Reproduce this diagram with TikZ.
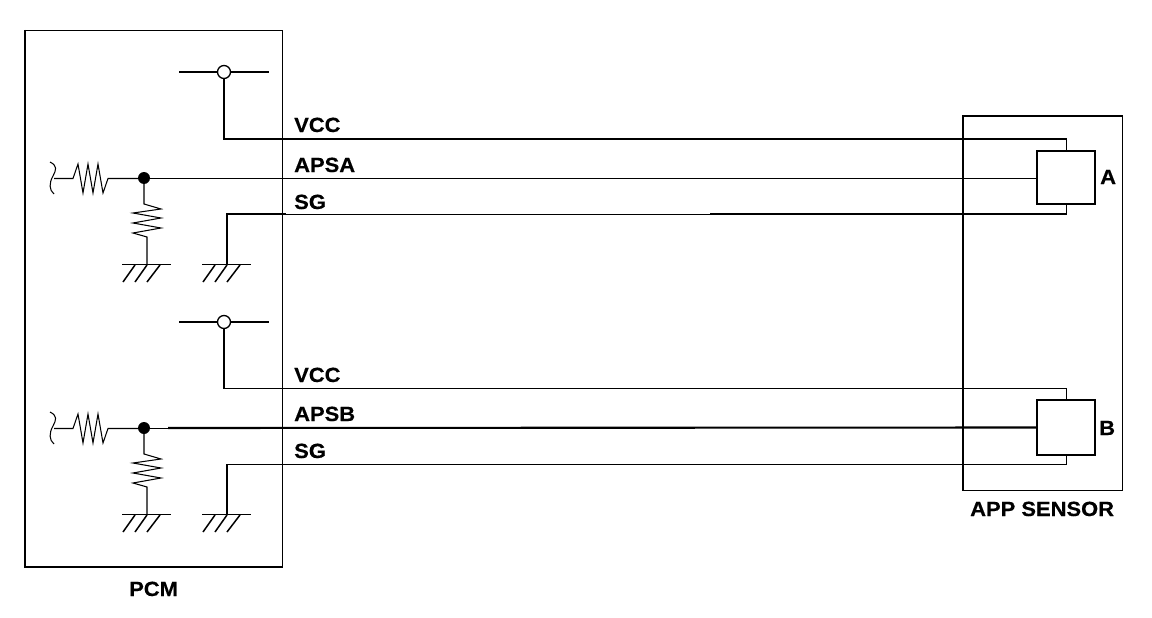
\documentclass[tikz,border=0pt]{standalone}
\usepackage{fontspec}
\setmainfont[BoldFeatures={FakeStretch=1.07,FakeBold=0.5}]{Liberation Sans}
\begin{document}
\begin{tikzpicture}[x=1pt,y=-1pt,
  thinw/.style={line width=1.05pt},
  midw/.style={line width=1.5pt},
  thickw/.style={line width=2.1pt},
  lbl/.style={font=\bfseries\fontsize{20.5}{20.5}\selectfont,inner sep=0pt,anchor=base west},
  opencirc/.style={circle,draw,fill=white,line width=1.3pt,minimum size=13pt,inner sep=0pt},
  dotc/.style={circle,fill=black,minimum size=12pt,inner sep=0pt},
  sensorbox/.style={draw,line width=1.7pt,minimum width=58pt,inner sep=0pt,outer sep=0pt}]
\useasboundingbox (0,0) rectangle (1152,618);
\draw[thinw] (25,30.5) -- (282.5,30.5) -- (282.5,567);
\draw[thickw] (25,29.9) -- (25,567) -- (283,567);
\draw[midw] (1122.5,116) -- (1122.5,490.5) -- (963,490.5);
\draw[thickw] (1123,116) -- (963,116) -- (963,491);
\node[sensorbox,minimum height=53pt] (sa) at (1066,177.5) {};
\node[sensorbox,minimum height=55pt] (sb) at (1066,427.5) {};
\foreach \n/\o/\gw in {u/0/thinw,l/250/midw}{
  \begin{scope}[yshift=-\o pt]
  \coordinate (\n vl) at (179,72); \coordinate (\n vr) at (269,72);
  \draw[thickw] (\n vl) -- (\n vr);
  \node[opencirc] (\n vc) at (224,72) {};
  \coordinate (\n j) at (144,178);
  \draw[thinw,line join=round] (50,162) .. controls (58,166) and (56,170) .. (53,176) .. controls (49,183) and (49,190) .. (54,194);
  \draw[thinw] (54,178.5) -- (73,178.5) -- (78,164) -- (83,193) -- (88,164) -- (93,193) -- (98,164) -- (103,193) -- (108,178.5) -- (144,178.5);
  \draw[thinw] (144,178) -- (144,204) -- (161,209) -- (133,213) -- (161,218) -- (133,223) -- (161,228) -- (133,233) -- (147,237) -- (147,264);
  \foreach \gx in {0,80}{
    \draw[\gw] (122+\gx,264.5) -- (171+\gx,264.5);
    \draw[midw] (135+\gx,265) -- (123+\gx,282);
    \draw[midw] (147+\gx,265) -- (135+\gx,282);
    \draw[midw] (160+\gx,265) -- (147+\gx,282);
  }
  \node[dotc] (\n jd) at (\n j) {};
  \end{scope}
}
\draw[thickw] (uvc) -- (224,139) -- (1067,139);
\draw[thinw] (1066.5,139) -- (1066.5,151);
\draw[thinw] (144,178.5) -- (1037,178.5);
\draw[thickw] (227,264) -- (227,214) -- (286,214);
\draw[thinw] (286,214.5) -- (710,214.5);
\draw[thickw] (710,214) -- (1067,214);
\draw[thinw] (1066.5,214) -- (1066.5,204);
\draw[midw] (lvc) -- (224,388.5);
\draw[thinw] (223.5,388.5) -- (1066.5,388.5) -- (1066.5,400);
\draw[thinw] (144,428.5) -- (168,428.5);
\draw[thickw] (168,428) -- (sb.west);
\draw[thickw] (227,514) -- (227,464);
\draw[thinw] (226,464.5) -- (1066.5,464.5) -- (1066.5,455);
\node[lbl] (t1) at (294,132) {VCC};
\node[lbl] (t2) at (294,172) {APSA};
\node[lbl] (t3) at (294,209) {SG};
\node[lbl] (t4) at (294,382) {VCC};
\node[lbl] (t5) at (294,421) {APSB};
\node[lbl] (t6) at (294,458) {SG};
\node[lbl] (t7) at (1100,184) {A};
\node[lbl] (t8) at (1099,435) {B};
\node[lbl] (t9) at (970,516) {APP SENSOR};
\node[lbl] (t10) at (129,596) {PCM};
\end{tikzpicture}
\end{document}
